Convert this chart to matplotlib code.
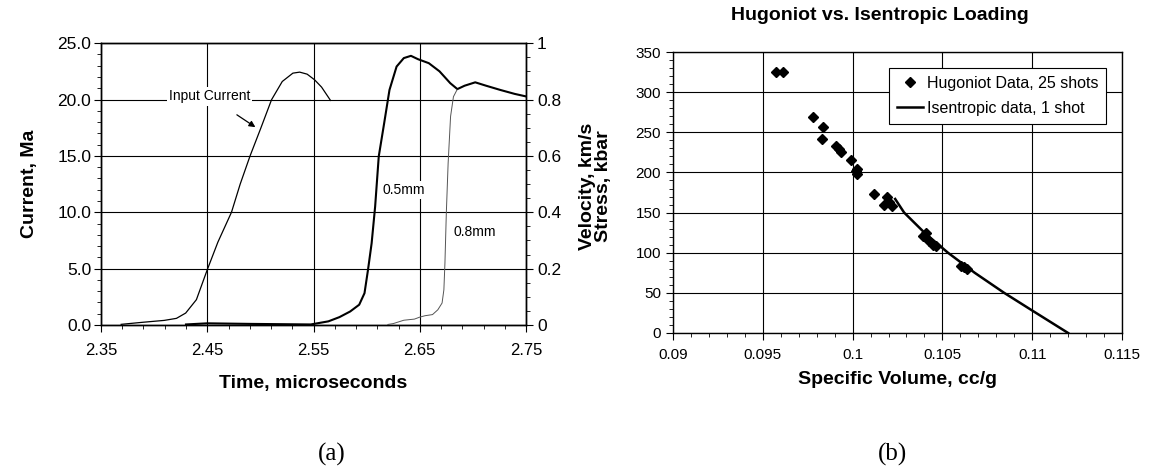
import matplotlib
matplotlib.use("Agg")
import matplotlib.pyplot as plt
from matplotlib.ticker import MultipleLocator, FormatStrFormatter, FuncFormatter

plt.rcParams['font.family'] = ['Liberation Sans', 'DejaVu Sans']

# ---------------- (a) current and velocity traces ----------------
cur_t = [2.369, 2.389, 2.4095, 2.421, 2.4297, 2.4398, 2.45, 2.46, 2.4728, 2.481,
         2.4903, 2.5004, 2.5105, 2.5206, 2.5306, 2.537, 2.544, 2.551, 2.5576, 2.566]
cur_a = [0.06, 0.24, 0.41, 0.59, 1.06, 2.25, 4.9, 7.35, 10.0, 12.5,
         15.0, 17.46, 19.98, 21.6, 22.34, 22.43, 22.25, 21.75, 21.1, 19.92]

v05_t = [2.43, 2.45, 2.49, 2.5474, 2.564, 2.5744, 2.5845, 2.593, 2.598, 2.6013,
         2.6047, 2.608, 2.6114, 2.6165, 2.6215, 2.6282, 2.635, 2.6417, 2.6484,
         2.6585, 2.6686, 2.6787, 2.6854, 2.6922, 2.7022, 2.7124, 2.7258, 2.7393, 2.75]
v05_v = [0.002, 0.006, 0.004, 0.002, 0.013, 0.028, 0.048, 0.072, 0.113, 0.196,
         0.29, 0.42, 0.598, 0.716, 0.834, 0.917, 0.947, 0.955, 0.943,
         0.929, 0.90, 0.858, 0.837, 0.849, 0.861, 0.849, 0.834, 0.82, 0.811]

v08_t = [2.62, 2.625, 2.635, 2.645, 2.65, 2.655, 2.662, 2.667, 2.671, 2.6727,
         2.6737, 2.675, 2.6767, 2.679, 2.6817, 2.685]
v08_v = [0.002, 0.005, 0.017, 0.021, 0.028, 0.033, 0.037, 0.054, 0.078, 0.125,
         0.22, 0.397, 0.574, 0.74, 0.81, 0.834]

t_ticks = [2.35, 2.45, 2.55, 2.65, 2.75]

# ---------------- (b) hugoniot vs isentrope ----------------
hug_v = [0.09571, 0.09611, 0.0978, 0.09833, 0.09829, 0.09909, 0.09925, 0.09937,
         0.0999, 0.10024, 0.10022, 0.1002, 0.1012, 0.10189, 0.10173, 0.10217,
         0.1020, 0.1039, 0.10406, 0.10426, 0.1045, 0.10466, 0.10605, 0.10635, 0.1062]
hug_s = [324.6, 325.0, 269.7, 256.8, 241.8, 233.0, 229.7, 226.0,
         216.0, 204.0, 197.7, 202.0, 173.0, 169.8, 159.8, 158.6,
         163.5, 120.7, 124.0, 114.9, 110.0, 108.6, 83.6, 80.3, 82.0]

isen_v = [0.10237, 0.10287, 0.1040, 0.10531, 0.1068, 0.10844, 0.1100, 0.1120]
isen_s = [167.0, 150.0, 125.0, 100.0, 75.0, 50.0, 28.0, 0.0]

fig = plt.figure(figsize=(11.49, 4.69), dpi=100)

minor_kw = dict(direction='out', length=3, width=0.6)

# left panel
ax1 = fig.add_axes([0.0879, 0.307, 0.3699, 0.601])
ax1.plot(cur_t, cur_a, color='black', lw=0.9)
ax1.set_xlim(2.35, 2.75)
ax1.set_ylim(0, 25)
ax1.set_xticks(t_ticks)
ax1.xaxis.set_minor_locator(MultipleLocator(0.02, offset=0.01))
ax1.yaxis.set_major_locator(MultipleLocator(5))
ax1.yaxis.set_minor_locator(MultipleLocator(1))
ax1.xaxis.set_major_formatter(FormatStrFormatter('%.2f'))
ax1.yaxis.set_major_formatter(FormatStrFormatter('%.1f'))
ax1.tick_params(axis='x', which='major', direction='out', length=5, width=0.8,
                labelsize=12, pad=8)
ax1.tick_params(axis='y', which='major', direction='out', length=5, width=0.8,
                labelsize=12.5, pad=2)
ax1.tick_params(which='minor', **minor_kw)
ax1.grid(True, which='major', color='black', lw=0.8)
ax1.set_xlabel('Time, microseconds', fontsize=14, fontweight='bold', labelpad=12)
ax1.set_ylabel('Current, Ma', fontsize=14, fontweight='bold', labelpad=14)

ax1.annotate('Input Current', xy=(2.4953, 17.55), xytext=(2.452, 20.27),
             fontsize=10, ha='center', va='center',
             bbox=dict(boxstyle='square,pad=0.15', fc='white', ec='none'),
             arrowprops=dict(arrowstyle='-|>', color='black', lw=0.9,
                             shrinkA=12, shrinkB=0, mutation_scale=9))

ax2 = ax1.twinx()
ax2.plot(v05_t, v05_v, color='black', lw=1.5)
ax2.plot(v08_t, v08_v, color='#555555', lw=0.7)
ax2.set_ylim(0, 1)
ax2.yaxis.set_major_locator(MultipleLocator(0.2))
ax2.yaxis.set_minor_locator(MultipleLocator(0.05))
ax2.yaxis.set_major_formatter(FuncFormatter(lambda v, p: '%g' % round(v, 2)))
ax2.tick_params(which='major', direction='out', length=5, width=0.8,
                labelsize=12.5, pad=3)
ax2.tick_params(which='minor', **minor_kw)
ax2.text(2.635, 0.48, '0.5mm', fontsize=10, ha='center', va='center',
         bbox=dict(boxstyle='square,pad=0.15', fc='white', ec='none'))
ax2.text(2.702, 0.33, '0.8mm', fontsize=10, ha='center', va='center')

fig.text(0.518, 0.603, 'Velocity, km/s\nStress, kbar', fontsize=14,
         fontweight='bold', rotation=90, ha='center', va='center',
         multialignment='center', linespacing=0.95)

# right panel
ax3 = fig.add_axes([0.5857, 0.29, 0.3908, 0.599])
ax3.plot(hug_v, hug_s, linestyle='none', marker='D', ms=5.5, color='black',
         label='Hugoniot Data, 25 shots')
ax3.plot(isen_v, isen_s, color='black', lw=1.8, label='Isentropic data, 1 shot')
ax3.set_xlim(0.09, 0.115)
ax3.set_ylim(0, 350)
ax3.xaxis.set_major_locator(MultipleLocator(0.005))
ax3.xaxis.set_minor_locator(MultipleLocator(0.001))
ax3.yaxis.set_major_locator(MultipleLocator(50))
ax3.yaxis.set_minor_locator(MultipleLocator(10))
ax3.xaxis.set_major_formatter(FuncFormatter(lambda v, p: '%g' % round(v, 4)))
ax3.tick_params(which='major', direction='out', length=5, width=0.8, labelsize=11)
ax3.tick_params(axis='x', which='major', pad=6)
ax3.tick_params(which='minor', **minor_kw)
ax3.grid(True, which='major', color='black', lw=0.8)
ax3.set_xlabel('Specific Volume, cc/g', fontsize=14, fontweight='bold', labelpad=6)
fig.text(0.766, 0.966, 'Hugoniot vs. Isentropic Loading', fontsize=14,
         fontweight='bold', ha='center', va='center')
leg = ax3.legend(loc='upper right', fontsize=11.5, frameon=True, fancybox=False,
                 edgecolor='black', framealpha=1, borderaxespad=1.0,
                 handlelength=1.6, handletextpad=0.25, labelspacing=0.6,
                 borderpad=0.5)
leg.get_frame().set_linewidth(0.8)

for ax in (ax1, ax2, ax3):
    for s in ax.spines.values():
        s.set_linewidth(1.0)

fig.text(0.289, 0.032, '(a)', fontsize=18, ha='center', va='center', family='Liberation Serif')
fig.text(0.777, 0.032, '(b)', fontsize=18, ha='center', va='center', family='Liberation Serif')

fig.savefig('out.png', dpi=100)
